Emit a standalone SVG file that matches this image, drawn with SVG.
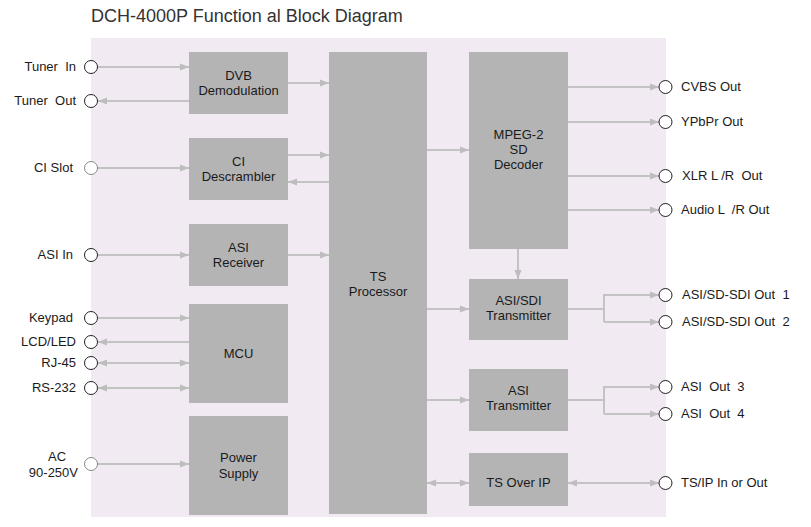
<svg xmlns="http://www.w3.org/2000/svg" width="811" height="527" viewBox="0 0 811 527" xml:space="preserve">
<defs>
<marker id="ah" markerWidth="10" markerHeight="8" refX="9" refY="4" orient="auto" markerUnits="userSpaceOnUse">
<path d="M0,0.5 L9,4 L0,7.5 Z" fill="#bdbdbd"/>
</marker>
<marker id="as" markerWidth="10" markerHeight="8" refX="0" refY="4" orient="auto" markerUnits="userSpaceOnUse">
<path d="M9,0.5 L0,4 L9,7.5 Z" fill="#bdbdbd"/>
</marker>
</defs>
<style>
.bg{fill:#f2eaf3}
.box{fill:#b4b4b5}
text{white-space:pre}
.t{font-family:"Liberation Sans",Arial,sans-serif;font-size:13px;fill:#1a1a1a}
.bt{font-family:"Liberation Sans",Arial,sans-serif;font-size:13px;fill:#1a1a1a;text-anchor:middle}
.l{font-family:"Liberation Sans",Arial,sans-serif;font-size:13px;fill:#1a1a1a;text-anchor:end}
.c{fill:#ffffff;stroke:#222;stroke-width:1}
.c2{fill:#ffffff;stroke:#888;stroke-width:1}
.w{stroke:#c3c3c3;stroke-width:2;fill:none}
.a{marker-end:url(#ah)}
.s{marker-start:url(#as)}
</style>
<rect width="811" height="527" fill="#ffffff"/>
<text x="91" y="22" font-family="Liberation Sans,Arial,sans-serif" font-size="18" fill="#333">DCH-4000P Function al Block Diagram</text>
<rect class="bg" x="91" y="38" width="575" height="479"/>

<g id="connectors">
<line class="w a" x1="98" y1="67" x2="189" y2="67"/>
<line class="w s" x1="98" y1="101" x2="189" y2="101"/>
<line class="w a" x1="98" y1="168" x2="189" y2="168"/>
<line class="w a" x1="98" y1="255" x2="189" y2="255"/>
<line class="w a" x1="98" y1="318" x2="189" y2="318"/>
<line class="w s" x1="98" y1="342" x2="189" y2="342"/>
<line class="w a s" x1="98" y1="363" x2="189" y2="363"/>
<line class="w a s" x1="98" y1="388" x2="189" y2="388"/>
<line class="w a" x1="98" y1="464" x2="189" y2="464"/>
<line class="w a" x1="288" y1="83" x2="329" y2="83"/>
<line class="w a" x1="288" y1="155" x2="329" y2="155"/>
<line class="w s" x1="288" y1="182" x2="329" y2="182"/>
<line class="w a" x1="288" y1="255" x2="329" y2="255"/>
<line class="w a" x1="427" y1="150" x2="469" y2="150"/>
<line class="w a" x1="427" y1="309" x2="469" y2="309"/>
<line class="w a" x1="427" y1="400" x2="469" y2="400"/>
<line class="w a s" x1="427" y1="483" x2="469" y2="483"/>
<line class="w a" x1="518" y1="249" x2="518" y2="279"/>
<line class="w a" x1="568" y1="87" x2="659" y2="87"/>
<line class="w a" x1="568" y1="122" x2="659" y2="122"/>
<line class="w a" x1="568" y1="176" x2="659" y2="176"/>
<line class="w a" x1="568" y1="210" x2="659" y2="210"/>
<polyline class="w" points="568,309 604,309"/>
<polyline class="w a" points="604,322 604,295 659,295"/>
<line class="w a" x1="604" y1="322" x2="659" y2="322"/>
<polyline class="w" points="568,400 604,400"/>
<polyline class="w a" points="604,414 604,387 659,387"/>
<line class="w a" x1="604" y1="414" x2="659" y2="414"/>
<line class="w a s" x1="568" y1="483" x2="659" y2="483"/>
</g>

<g id="port-tuner-in"><circle class="c" cx="91" cy="67" r="6.5"/><text class="l" x="76" y="71">Tuner  In</text></g>
<g id="port-tuner-out"><circle class="c" cx="91" cy="101" r="6.5"/><text class="l" x="76" y="105">Tuner  Out</text></g>
<g id="port-ci-slot"><circle class="c2" cx="91" cy="168" r="6.5"/><text class="l" x="73" y="172">CI Slot</text></g>
<g id="port-asi-in"><circle class="c" cx="91" cy="255" r="6.5"/><text class="l" x="73" y="259">ASI In</text></g>
<g id="port-keypad"><circle class="c" cx="91" cy="318" r="6.5"/><text class="l" x="73" y="322">Keypad</text></g>
<g id="port-lcd"><circle class="c" cx="91" cy="342" r="6.5"/><text class="l" x="76" y="346">LCD/LED</text></g>
<g id="port-rj45"><circle class="c" cx="91" cy="363" r="6.5"/><text class="l" x="76" y="367">RJ-45</text></g>
<g id="port-rs232"><circle class="c" cx="91" cy="388" r="6.5"/><text class="l" x="76" y="392">RS-232</text></g>
<g id="port-ac"><circle class="c2" cx="91" cy="464" r="6.5"/><text class="bt" x="57" y="461">AC</text><text class="l" x="78" y="477">90-250V</text></g>

<g id="dvb"><rect class="box" x="189" y="52" width="99" height="62"/><text class="bt" x="238.5" y="80">DVB</text><text class="bt" x="238.5" y="95">Demodulation</text></g>
<g id="ci"><rect class="box" x="189" y="138" width="99" height="62"/><text class="bt" x="238.5" y="166">CI</text><text class="bt" x="238.5" y="181">Descrambler</text></g>
<g id="asi-rx"><rect class="box" x="189" y="224" width="99" height="62"/><text class="bt" x="238.5" y="252">ASI</text><text class="bt" x="238.5" y="267">Receiver</text></g>
<g id="mcu"><rect class="box" x="189" y="304" width="99" height="99"/><text class="bt" x="238.5" y="358">MCU</text></g>
<g id="psu"><rect class="box" x="189" y="416" width="99" height="99"/><text class="bt" x="238.5" y="462">Power</text><text class="bt" x="238.5" y="478">Supply</text></g>
<g id="ts"><rect class="box" x="329" y="52" width="98" height="462"/><text class="bt" x="378" y="281">TS</text><text class="bt" x="378" y="296">Processor</text></g>
<g id="mpeg"><rect class="box" x="469" y="52" width="99" height="197"/><text class="bt" x="518.5" y="139">MPEG-2</text><text class="bt" x="518.5" y="154">SD</text><text class="bt" x="518.5" y="169">Decoder</text></g>
<g id="asisdi"><rect class="box" x="469" y="279" width="99" height="61"/><text class="bt" x="518.5" y="305">ASI/SDI</text><text class="bt" x="518.5" y="320">Transmitter</text></g>
<g id="asitx"><rect class="box" x="469" y="369" width="99" height="62"/><text class="bt" x="518.5" y="395">ASI</text><text class="bt" x="518.5" y="410">Transmitter</text></g>
<g id="tsip"><rect class="box" x="469" y="453" width="99" height="53"/><text class="bt" x="518.5" y="487">TS Over IP</text></g>

<g id="port-cvbs"><circle class="c" cx="665.5" cy="87" r="6.5"/><text class="t" x="681" y="91">CVBS Out</text></g>
<g id="port-ypbpr"><circle class="c" cx="665.5" cy="122" r="6.5"/><text class="t" x="681" y="126">YPbPr Out</text></g>
<g id="port-xlr"><circle class="c" cx="665.5" cy="176" r="6.5"/><text class="t" x="682" y="180">XLR L /R  Out</text></g>
<g id="port-audio"><circle class="c" cx="665.5" cy="210" r="6.5"/><text class="t" x="681" y="214">Audio L  /R Out</text></g>
<g id="port-sdi1"><circle class="c" cx="665.5" cy="295" r="6.5"/><text class="t" x="682" y="299">ASI/SD-SDI Out  1</text></g>
<g id="port-sdi2"><circle class="c" cx="665.5" cy="322" r="6.5"/><text class="t" x="682" y="326">ASI/SD-SDI Out  2</text></g>
<g id="port-asi3"><circle class="c" cx="665.5" cy="387" r="6.5"/><text class="t" x="681" y="391">ASI  Out  3</text></g>
<g id="port-asi4"><circle class="c" cx="665.5" cy="414" r="6.5"/><text class="t" x="681" y="418">ASI  Out  4</text></g>
<g id="port-tsip"><circle class="c" cx="665.5" cy="483" r="6.5"/><text class="t" x="681" y="487">TS/IP In or Out</text></g>
</svg>
